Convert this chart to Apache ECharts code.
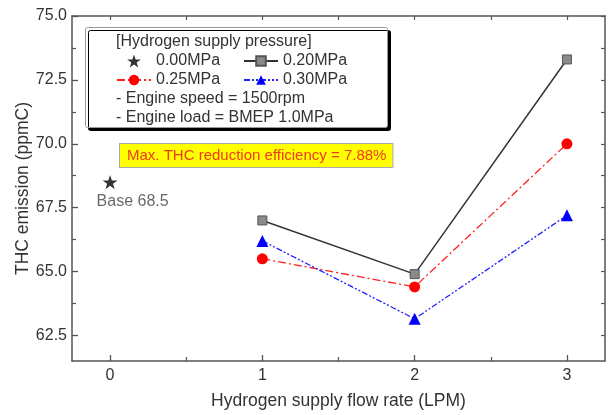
<!DOCTYPE html>
<html>
<head>
<meta charset="utf-8">
<script src="https://cdn.jsdelivr.net/npm/echarts@6/dist/echarts.min.js"></script>
<style>
  html, body { margin: 0; padding: 0; background: #fff; }
  #chart { width: 614px; height: 415px; }
</style>
</head>
<body>
<div id="chart"></div>
<script>
// data
var flowRates = [1, 2, 3];
var thc020 = [67.0, 64.9, 73.3];
var thc025 = [65.5, 64.4, 70.0];
var thc030 = [66.2, 63.15, 67.2];
var baseFlow = 0;
var baseThc = 68.5;

var xLabels = [0, 1, 2, 3];
var xMinorTicks = [0.5, 1.5, 2.5];
var xAllTicks = [0, 0.5, 1, 1.5, 2, 2.5, 3];
var yLabels = [62.5, 65.0, 67.5, 70.0, 72.5, 75.0];
var yMinorTicks = [63.75, 66.25, 68.75, 71.25, 73.75];
var yAllTicks = [62.5, 63.75, 65.0, 66.25, 67.5, 68.75, 70.0, 71.25, 72.5, 73.75, 75.0];

var FONT = 'Liberation Sans, Arial, sans-serif';
var AXIS_COLOR = '#555';
var STAR = 'path://M50,0 L61.8,35.4 L99,35.4 L68.9,57.3 L80.3,92.7 L50,70.8 L19.7,92.7 L31.1,57.3 L1,35.4 L38.2,35.4 Z';

function pairs(xs, ys) {
  return xs.map(function (x, i) { return [x, ys[i]]; });
}

var chart = echarts.init(document.getElementById('chart'));

var axisLine = { show: true, onZero: false, lineStyle: { color: AXIS_COLOR, width: 1.5 } };
var noLine = { show: false, onZero: false };

chart.setOption({
  animation: false,
  textStyle: { fontFamily: FONT },
  grid: { left: 72, right: 9, top: 16, bottom: 49 },
  xAxis: [
    {
      type: 'value', min: -0.25, max: 3.25, position: 'bottom',
      axisLine: axisLine,
      splitLine: { show: false },
      axisTick: { show: true, inside: true, length: 6, customValues: xLabels,
        lineStyle: { color: AXIS_COLOR, width: 1.3 } },
      axisLabel: { customValues: xLabels, fontSize: 16, color: '#333', margin: 7 },
      name: 'Hydrogen supply flow rate (LPM)', nameLocation: 'middle', nameGap: 31,
      nameMoveOverlap: false,
      nameTextStyle: { fontSize: 17.5, color: '#333' }
    },
    {
      type: 'value', min: -0.25, max: 3.25, position: 'bottom',
      axisLine: noLine, splitLine: { show: false }, axisLabel: { show: false },
      axisTick: { show: true, inside: true, length: 4, customValues: xMinorTicks,
        lineStyle: { color: AXIS_COLOR, width: 1.2 } }
    },
    {
      type: 'value', min: -0.25, max: 3.25, position: 'top',
      axisLine: axisLine, splitLine: { show: false }, axisLabel: { show: false },
      axisTick: { show: true, inside: true, length: 4, customValues: xAllTicks,
        lineStyle: { color: AXIS_COLOR, width: 1.2 } }
    }
  ],
  yAxis: [
    {
      type: 'value', min: 61.5, max: 75, position: 'left',
      axisLine: axisLine,
      splitLine: { show: false },
      axisTick: { show: true, inside: true, length: 6, customValues: yLabels,
        lineStyle: { color: AXIS_COLOR, width: 1.3 } },
      axisLabel: { customValues: yLabels, fontSize: 16, color: '#333', margin: 5,
        formatter: function (v) { return v.toFixed(1); } },
      name: 'THC emission (ppmC)', nameLocation: 'middle', nameGap: 40,
      nameMoveOverlap: false,
      nameTextStyle: { fontSize: 17.5, color: '#333' }
    },
    {
      type: 'value', min: 61.5, max: 75, position: 'left',
      axisLine: noLine, splitLine: { show: false }, axisLabel: { show: false },
      axisTick: { show: true, inside: true, length: 4, customValues: yMinorTicks,
        lineStyle: { color: AXIS_COLOR, width: 1.2 } }
    },
    {
      type: 'value', min: 61.5, max: 75, position: 'right',
      axisLine: axisLine, splitLine: { show: false }, axisLabel: { show: false },
      axisTick: { show: true, inside: true, length: 4, customValues: yAllTicks,
        lineStyle: { color: AXIS_COLOR, width: 1.2 } }
    }
  ],
  legend: [
    {
      left: 116, top: 53, orient: 'vertical', padding: 0, z: 8,
      itemWidth: 34, itemHeight: 13, itemGap: 3,
      textStyle: { fontSize: 16, color: '#333', lineHeight: 16 },
      data: ['0.00MPa', '0.25MPa']
    },
    {
      left: 243, top: 53, orient: 'vertical', padding: 0, z: 8,
      itemWidth: 34, itemHeight: 12, itemGap: 3,
      textStyle: { fontSize: 16, color: '#333', lineHeight: 16 },
      data: ['0.20MPa', '0.30MPa']
    }
  ],
  graphic: [
    {
      type: 'rect', left: 85, top: 27, z: 5,
      shape: { width: 302, height: 100, r: 2 },
      style: { fill: '#fff', stroke: '#999', lineWidth: 1,
        shadowColor: '#000', shadowOffsetX: 3, shadowOffsetY: 3, shadowBlur: 0 }
    },
    {
      type: 'text', left: 116, top: 34, z: 11,
      style: { text: '[Hydrogen supply pressure]', fontSize: 16, fill: '#333', fontFamily: FONT }
    },
    {
      type: 'text', left: 116, top: 91, z: 11,
      style: { text: '- Engine speed = 1500rpm', fontSize: 16, fill: '#333', fontFamily: FONT }
    },
    {
      type: 'text', left: 116, top: 110, z: 11,
      style: { text: '- Engine load = BMEP 1.0MPa', fontSize: 16, fill: '#333', fontFamily: FONT }
    },
    {
      type: 'text', left: 119, top: 143, z: 11,
      style: { text: 'Max. THC reduction efficiency = 7.88%', fontSize: 15, fill: '#ee3b1c',
        fontFamily: FONT, backgroundColor: '#ffff00', borderColor: '#aaa', borderWidth: 1,
        padding: [4, 6, 4, 7] }
    }
  ],
  series: [
    {
      name: '0.00MPa', type: 'scatter',
      data: [[baseFlow, baseThc]],
      symbol: STAR, symbolSize: 15, symbolKeepAspect: true,
      itemStyle: { color: '#000' },
      label: { show: true, position: [-6, 27], align: 'left', verticalAlign: 'middle',
        fontSize: 16, color: '#444',
        formatter: function (p) { return 'Base ' + p.value[1]; } }
    },
    {
      name: '0.20MPa', type: 'line',
      data: pairs(flowRates, thc020),
      symbol: 'rect', symbolSize: 9,
      lineStyle: { color: '#333', width: 1.5, type: 'solid' },
      itemStyle: { color: '#8a8a8a', borderColor: '#555', borderWidth: 1 }
    },
    {
      name: '0.25MPa', type: 'line',
      data: pairs(flowRates, thc025),
      symbol: 'circle', symbolSize: 11,
      lineStyle: { color: '#ff2020', width: 1.3, type: [8, 3, 2, 3] },
      itemStyle: { color: '#ff0000', borderWidth: 0 }
    },
    {
      name: '0.30MPa', type: 'line',
      data: pairs(flowRates, thc030),
      symbol: 'triangle', symbolSize: 12,
      lineStyle: { color: '#2020ff', width: 1.3, type: [6, 2, 2, 2, 2, 2] },
      itemStyle: { color: '#0000ff', borderWidth: 0 }
    }
  ]
});
</script>
</body>
</html>
